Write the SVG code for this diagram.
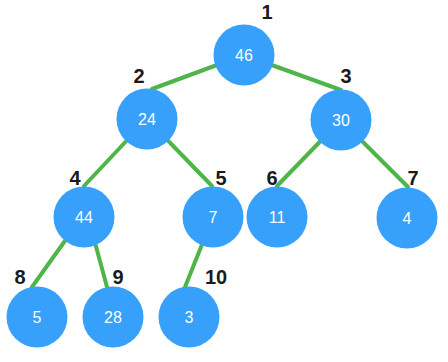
<svg xmlns="http://www.w3.org/2000/svg" width="448" height="362" viewBox="0 0 448 362">
<style>
.edge{stroke:#4fb548;stroke-width:4;stroke-linecap:round;fill:none}
.node circle{fill:#36a0fb}
.node text{fill:#ffffff;font-family:"Liberation Sans",Arial,sans-serif;font-size:16px;text-anchor:middle;dominant-baseline:central}
.idx{fill:#1a1a1a;font-family:"Liberation Sans",Arial,sans-serif;font-size:20px;font-weight:bold;text-anchor:middle}
</style>
<rect width="448" height="362" fill="#ffffff"/>
<g id="connectors">
<line class="edge" x1="244" y1="55" x2="152" y2="89"/>
<line class="edge" x1="244" y1="55" x2="341" y2="90"/>
<line class="edge" x1="147" y1="119" x2="84" y2="186"/>
<line class="edge" x1="147" y1="119" x2="212" y2="186"/>
<line class="edge" x1="341" y1="120" x2="277" y2="186"/>
<line class="edge" x1="341" y1="120" x2="408" y2="187"/>
<line class="edge" x1="82" y1="217" x2="32" y2="287"/>
<line class="edge" x1="88" y1="217" x2="107" y2="287"/>
<line class="edge" x1="213" y1="217" x2="185" y2="287"/>
</g>
<g id="labels">
<text class="idx" x="267" y="19">1</text>
<text class="idx" x="139" y="83">2</text>
<text class="idx" x="346" y="83">3</text>
<text class="idx" x="75" y="185">4</text>
<text class="idx" x="221" y="185">5</text>
<text class="idx" x="272" y="185">6</text>
<text class="idx" x="413" y="185">7</text>
<text class="idx" x="20" y="284">8</text>
<text class="idx" x="118" y="284">9</text>
<text class="idx" x="216" y="284">10</text>
</g>
<g id="n1" class="node"><circle cx="244" cy="55" r="30.5"/><text x="244" y="55">46</text></g>
<g id="n2" class="node"><circle cx="147" cy="119" r="30.5"/><text x="147" y="119">24</text></g>
<g id="n3" class="node"><circle cx="341" cy="120" r="30.5"/><text x="341" y="120">30</text></g>
<g id="n4" class="node"><circle cx="84" cy="217" r="30.5"/><text x="84" y="217">44</text></g>
<g id="n5" class="node"><circle cx="213" cy="217" r="30.5"/><text x="213" y="217">7</text></g>
<g id="n6" class="node"><circle cx="277" cy="217" r="30.5"/><text x="277" y="217">11</text></g>
<g id="n7" class="node"><circle cx="407" cy="218" r="30.5"/><text x="407" y="218">4</text></g>
<g id="n8" class="node"><circle cx="37" cy="317" r="30.5"/><text x="37" y="317">5</text></g>
<g id="n9" class="node"><circle cx="113" cy="317" r="30.5"/><text x="113" y="317">28</text></g>
<g id="n10" class="node"><circle cx="189" cy="317" r="30.5"/><text x="189" y="317">3</text></g>
</svg>
